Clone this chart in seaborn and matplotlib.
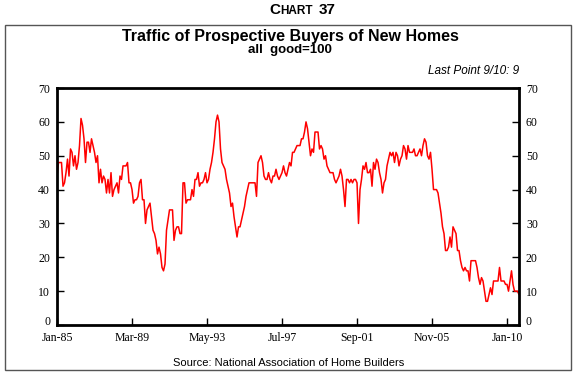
import matplotlib
matplotlib.use("Agg")
import matplotlib.pyplot as plt
import matplotlib.patches as patches
import numpy as np
import pandas as pd
import seaborn as sns

# monthly index, Jan-1985 .. Sep-2010 (all good = 100)
traffic = [
    44, 48, 48, 48, 41, 42, 45, 49, 44, 52, 51, 47, 50, 46, 48, 53, 61, 59, 55, 48,
    54, 54, 51, 55, 53, 51, 48, 50, 42, 46, 42, 44, 43, 39, 43, 39, 45, 38, 40, 41,
    42, 39, 44, 43, 47, 47, 47, 48, 42, 42, 40, 36, 37, 37, 38, 42, 43, 37, 37, 30,
    34, 35, 36, 32, 28, 27, 25, 21, 23, 21, 17, 16, 18, 28, 31, 34, 34, 34, 25, 28,
    29, 29, 27, 27, 42, 42, 36, 37, 37, 37, 40, 38, 43, 43, 45, 41, 42, 42, 43, 45,
    42, 43, 46, 48, 51, 55, 60, 62, 60, 52, 48, 47, 46, 43, 41, 39, 35, 36, 32, 29,
    26, 29, 29, 31, 33, 35, 38, 40, 42, 42, 42, 42, 42, 38, 48, 49, 50, 48, 44, 43,
    43, 45, 43, 42, 44, 44, 46, 44, 43, 44, 45, 47, 45, 44, 46, 48, 47, 51, 51, 52,
    53, 53, 53, 55, 55, 57, 60, 58, 54, 50, 52, 51, 57, 57, 57, 52, 53, 52, 49, 50,
    47, 46, 45, 45, 45, 43, 42, 43, 44, 46, 44, 40, 35, 43, 43, 42, 43, 42, 43, 43,
    42, 30, 40, 43, 47, 46, 48, 45, 45, 46, 41, 48, 46, 49, 48, 45, 43, 39, 42, 43,
    47, 49, 51, 50, 51, 48, 51, 50, 47, 49, 50, 53, 52, 49, 53, 51, 51, 51, 52, 50,
    50, 51, 52, 50, 53, 55, 54, 50, 49, 51, 46, 40, 40, 40, 39, 36, 33, 29, 27, 22,
    22, 23, 26, 23, 29, 28, 27, 22, 22, 19, 17, 16, 17, 16, 16, 13, 19, 19, 19, 19,
    17, 14, 12, 14, 13, 10, 7, 7, 9, 11, 9, 13, 13, 13, 13, 17, 13, 13, 13, 12,
    12, 10, 13, 16, 12, 10, 10, 10, 9,
]
tick_pos = [0, 50, 100, 150, 200, 250, 300]
tick_labels = ["Jan-85", "Mar-89", "May-93", "Jul-97", "Sep-01", "Nov-05", "Jan-10"]
y_ticks = [0, 10, 20, 30, 40, 50, 60, 70]

df = pd.DataFrame({"month": np.arange(len(traffic)), "traffic": traffic})

sns.set_style("white")
plt.rcParams["font.family"] = ["Liberation Sans", "DejaVu Sans"]
plt.rcParams["text.color"] = "black"

fig = plt.figure(figsize=(5.77, 3.76), dpi=100)
ax = fig.add_axes([0.0988, 0.1356, 0.8007, 0.6303])

sns.lineplot(data=df, x="month", y="traffic", color="#ff0000", linewidth=1.1, ax=ax)

ax.set_xlim(0, len(traffic) - 1)
ax.set_ylim(0, 70)
ax.set_xticks(tick_pos)
ax.set_xticklabels(tick_labels)
ax.set_yticks(y_ticks)
ax.set_xlabel("")
ax.set_ylabel("")
for s in ax.spines.values():
    s.set_linewidth(2)
    s.set_color("black")
ax.tick_params(axis="both", direction="in", length=5, width=1, colors="black",
               labelsize=8.5)
ax.tick_params(axis="y", left=True, right=True, labelleft=True, labelright=True, pad=5)
ax.tick_params(axis="x", bottom=True, top=False, pad=5)
for lab in ax.get_xticklabels():
    lab.set_family("Liberation Serif")
for t in ax.yaxis.get_major_ticks():
    t.label1.set_family("Liberation Serif")
    t.label2.set_family("Liberation Serif")
    t.label2.set_fontsize(8.5)
# zero labels rest on the axis line, as in the original
ax.yaxis.get_major_ticks()[0].label1.set_va("baseline")
ax.yaxis.get_major_ticks()[0].label2.set_va("baseline")

# outer frame
fig.patches.append(patches.Rectangle((0.0087, 0.016), 0.981, 0.9176, transform=fig.transFigure,
                                     fill=False, edgecolor="#555555", linewidth=1))

# small-caps "Chart 37"
c = fig.text(0.466, 0.962, "C", fontsize=11, fontweight="bold", ha="left", va="baseline")
h = ax.annotate("HART", xy=(1, 0), xycoords=c, xytext=(0.5, 0), textcoords="offset points",
                fontsize=8.5, fontweight="bold", ha="left", va="bottom", annotation_clip=False)
ax.annotate("37", xy=(1, 0), xycoords=h, xytext=(4, 0), textcoords="offset points",
            fontsize=11, fontweight="bold", ha="left", va="bottom", annotation_clip=False)

fig.text(0.503, 0.902, "Traffic of Prospective Buyers of New Homes", fontsize=11.5,
         fontweight="bold", ha="center", va="center")
fig.text(0.503, 0.868, "all  good=100", fontsize=9.5, fontweight="bold", ha="center", va="center")
fig.text(0.9, 0.81, "Last Point 9/10: 9", fontsize=8.5, style="italic", ha="right", va="center")
fig.text(0.5, 0.035, "Source: National Association of Home Builders", fontsize=8,
         ha="center", va="center")

fig.savefig("out.png", dpi=100)
